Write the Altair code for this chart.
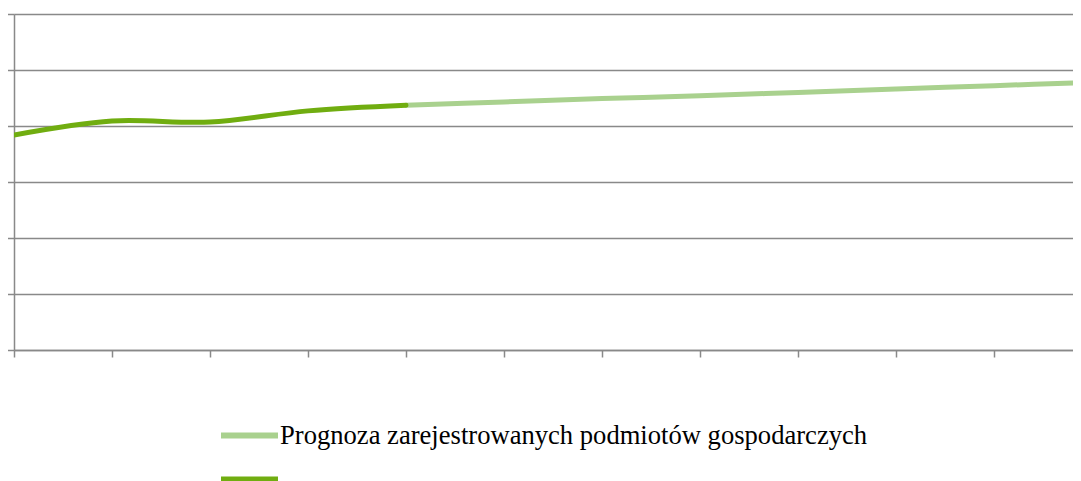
import altair as alt
import pandas as pd

# x positions are category slots (ticks at 0..10), values read in gridline units
actual_x = [0, 1, 2, 3, 4]
actual_y = [3.84, 4.09, 4.07, 4.27, 4.37]

forecast_x = [4, 5, 6, 7, 8, 9, 10, 11]
forecast_y = [4.37, 4.43, 4.49, 4.54, 4.60, 4.66, 4.72, 4.78]

series_forecast = "Prognoza zarejestrowanych podmiotów gospodarczych"
series_actual = ""

y_ticks = [0, 1, 2, 3, 4, 5, 6]
x_ticks = [0, 1, 2, 3, 4, 5, 6, 7, 8, 9, 10]

df = pd.concat([
    pd.DataFrame({"x": forecast_x, "y": forecast_y, "series": series_forecast}),
    pd.DataFrame({"x": actual_x, "y": actual_y, "series": series_actual}),
], ignore_index=True)

GRID = "#898989"
SERIF = "Liberation Serif"

color = alt.Color(
    "series:N",
    scale=alt.Scale(domain=[series_forecast, series_actual], range=["#A9D18E", "#70AD10"]),
    legend=alt.Legend(
        title=None,
        orient="none",
        legendX=218,
        legendY=404,
        direction="vertical",
        symbolType="M-2,0H2",
        symbolSize=812,
        symbolStrokeWidth=6,
        labelFont=SERIF,
        labelFontSize=26.6,
        labelColor="#000000",
        labelLimit=0,
        labelOffset=13,
        rowPadding=12,
        padding=0,
    ),
)

chart = (
    alt.Chart(df)
    .mark_line(interpolate="catmull-rom", strokeWidth=5, strokeCap="round", clip=True)
    .encode(
        x=alt.X(
            "x:Q",
            scale=alt.Scale(domain=[0, 10.806], nice=False, zero=False),
            axis=alt.Axis(
                values=x_ticks, labels=False, title=None, grid=False,
                tickSize=7, tickColor=GRID, tickWidth=1.5,
                domainColor=GRID, domainWidth=1.5,
            ),
        ),
        y=alt.Y(
            "y:Q",
            scale=alt.Scale(domain=[0, 6], nice=False),
            axis=alt.Axis(
                values=y_ticks, labels=False, title=None, grid=True,
                gridColor=GRID, gridWidth=1.5, gridOpacity=1,
                tickSize=7, tickColor=GRID, tickWidth=1.5,
                domainColor=GRID, domainWidth=1.5,
            ),
        ),
        color=color,
        detail="series:N",
        order=alt.Order("x:Q"),
    )
    .properties(
        width=1059,
        height=336,
        autosize=alt.AutoSizeParams(type="none"),
        padding={"left": 6, "top": 6, "right": 0, "bottom": 140},
    )
    .configure_view(stroke=None)
    .configure_legend(labelFont=SERIF)
    .configure(background="white", font=SERIF)
)

chart.save("out.html", embed_options={"renderer": "svg", "actions": False})
